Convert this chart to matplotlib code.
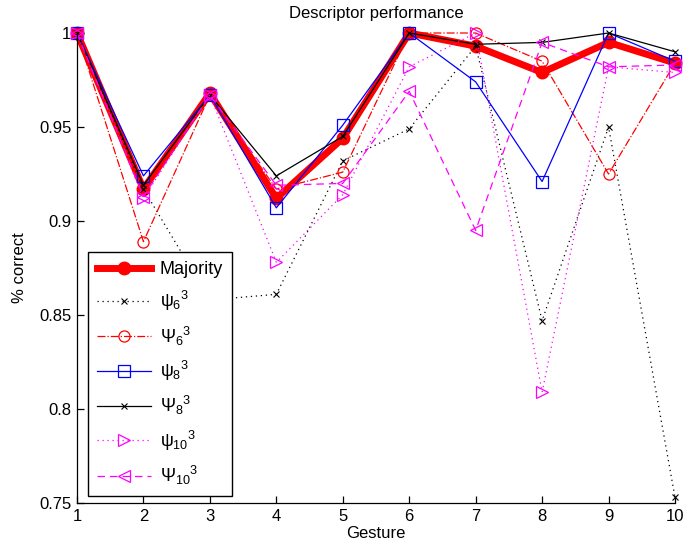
import matplotlib
matplotlib.use('Agg')
import matplotlib.pyplot as plt

plt.rcParams['font.family'] = ['Liberation Sans', 'DejaVu Sans']
plt.rcParams['font.size'] = 12
plt.rcParams['mathtext.fontset'] = 'custom'
plt.rcParams['mathtext.rm'] = 'Liberation Sans'
plt.rcParams['mathtext.it'] = 'Liberation Sans'

gesture = [1, 2, 3, 4, 5, 6, 7, 8, 9, 10]

majority = [1.0, 0.917, 0.968, 0.912, 0.944, 1.0, 0.993, 0.979, 0.995, 0.984]
psi6_a = [1.0, 0.917, 0.858, 0.861, 0.932, 0.949, 0.993, 0.847, 0.950, 0.753]
psi6_b = [1.0, 0.889, 0.967, 0.917, 0.926, 1.0, 1.0, 0.985, 0.925, 0.984]
psi8_a = [1.0, 0.924, 0.967, 0.907, 0.951, 1.0, 0.974, 0.921, 1.0, 0.985]
psi8_b = [1.0, 0.919, 0.967, 0.924, 0.945, 1.0, 0.994, 0.995, 1.0, 0.990]
psi10_a = [1.0, 0.912, 0.967, 0.878, 0.914, 0.982, 1.0, 0.809, 0.982, 0.979]
psi10_b = [1.0, 0.913, 0.967, 0.919, 0.920, 0.969, 0.895, 0.995, 0.982, 0.983]

labels = ['Majority', r'$\psi_6{}^3$', r'$\Psi_6{}^3$', r'$\psi_8{}^3$',
          r'$\Psi_8{}^3$', r'$\psi_{10}{}^3$', r'$\Psi_{10}{}^3$']

fig = plt.figure(figsize=(6.83, 5.54), dpi=100)
ax = fig.add_axes([77 / 683, 51 / 554, 598 / 683, 470 / 554])

dots = (0, (1, 3))
ax.plot(gesture, majority, color='red', lw=5, marker='o', ms=9,
        mfc='red', mec='red', label=labels[0], clip_on=False)
ax.plot(gesture, psi6_a, color='black', lw=0.9, ls=dots, marker='x', ms=5,
        mew=0.8, label=labels[1], clip_on=False)
ax.plot(gesture, psi6_b, color='red', lw=0.9, ls='-.', marker='o', ms=8,
        mfc='none', mew=0.9, label=labels[2], clip_on=False)
ax.plot(gesture, psi8_a, color='blue', lw=0.9, ls='-', marker='s', ms=8,
        mfc='none', mew=0.9, label=labels[3], clip_on=False)
ax.plot(gesture, psi8_b, color='black', lw=0.9, ls='-', marker='x', ms=4,
        mew=0.8, label=labels[4], clip_on=False)
ax.plot(gesture, psi10_a, color='magenta', lw=0.9, ls=dots, marker='>', ms=8,
        mfc='none', mew=0.9, label=labels[5], clip_on=False)
ax.plot(gesture, psi10_b, color='magenta', lw=0.9, ls=(0, (6, 4)), marker='<', ms=8,
        mfc='none', mew=0.9, label=labels[6], clip_on=False)

ax.set_xlim(1, 10)
ax.set_ylim(0.75, 1)
ax.set_xticks(gesture)
ax.set_yticks([0.75, 0.8, 0.85, 0.9, 0.95, 1.0])
ax.set_yticklabels(['0.75', '0.8', '0.85', '0.9', '0.95', '1'])
ax.spines['top'].set_visible(False)
ax.spines['right'].set_visible(False)
for s in ['left', 'bottom']:
    ax.spines[s].set_linewidth(0.9)
ax.tick_params(direction='in', length=5, width=0.9, labelsize=12, pad=4)

ax.set_title('Descriptor performance', fontsize=12, pad=11)
ax.set_xlabel('Gesture', fontsize=12, labelpad=2)
ax.set_ylabel('% correct', fontsize=12, labelpad=9)

leg = ax.legend(loc='lower left', bbox_to_anchor=(0.018, 0.015), borderaxespad=0,
                fancybox=False, framealpha=1, edgecolor='black', fontsize=13,
                handlelength=3.0, labelspacing=0.62, borderpad=0.5, handletextpad=0.5)
leg.get_frame().set_linewidth(1.0)

fig.savefig('out.png', dpi=100)
